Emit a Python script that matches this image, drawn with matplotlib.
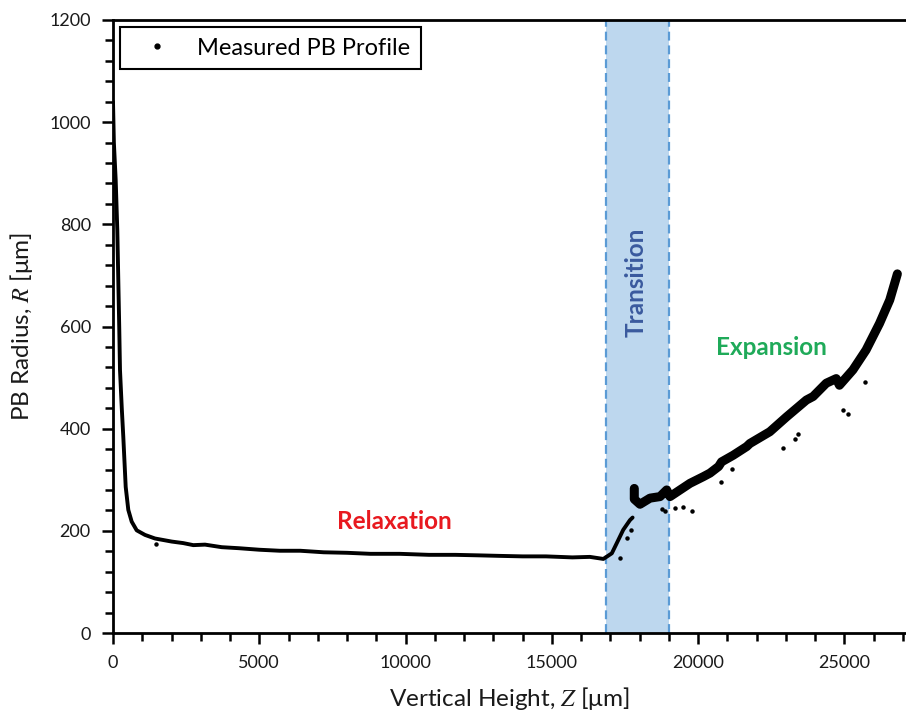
import matplotlib
matplotlib.use("Agg")
import matplotlib.pyplot as plt
from matplotlib.ticker import MultipleLocator
from matplotlib.lines import Line2D

plt.rcParams['font.family'] = ['Lato', 'DejaVu Sans']
plt.rcParams['mathtext.fontset'] = 'stix'

# profilo misurato: rilassamento + salita nella zona di transizione
z_relax = [0, 30, 92, 147, 181, 215, 239, 300, 352, 434, 523, 639, 810, 1094, 1436,
           2006, 2400, 2745, 3145, 3715, 4300, 5000, 5700, 6400, 7200, 8000, 8800,
           9800, 10800, 11700, 12500, 13200, 14000, 14800, 15700, 16300, 16760,
           17050, 17220, 17440, 17670, 17760]
r_relax = [1040, 960, 887, 789, 691, 593, 515, 440, 384, 286, 241, 218, 201, 192, 185,
           179, 176, 172, 173, 168, 166, 163, 161, 161, 158, 157, 155,
           155, 153, 153, 152, 151, 150, 150, 148, 149, 145,
           156, 176, 202, 221, 226]

# dopo il salto: transizione + espansione
z_exp = [17818, 17818, 18013, 18355, 18697, 18925, 19038, 19380, 19722, 20176, 20405,
         20700, 20800, 21200, 21660, 21770, 22450, 23020, 23700, 23930, 24380, 24720,
         24830, 25290, 25740, 26200, 26550, 26780, 26810]
r_exp = [283, 262, 252, 264, 267, 280, 267, 280, 293, 306, 313,
         326, 335, 348, 365, 371, 394, 423, 456, 463, 489, 498,
         485, 515, 554, 606, 652, 697, 703]

# punti isolati
z_out = [1460, 17330, 17558, 17695, 18755, 18868, 19209, 19493, 19778, 20770, 21170,
         22900, 23300, 23410, 24950, 25120, 25700]
r_out = [174, 146, 185, 202, 242, 239, 244, 246, 239, 296, 322,
         363, 380, 390, 437, 429, 492]

z_trans = [16850, 19000]

fig = plt.figure(figsize=(9.06, 7.18), dpi=100)
ax = fig.add_axes([113/906, 85/718, 1 - 113/906, 613/718])

ax.axvspan(z_trans[0], z_trans[1], color='#bdd7ee', zorder=0, lw=0)
for zt in z_trans:
    ax.axvline(zt, color='#5b9bd5', lw=1.6, dashes=(4, 2.2), zorder=1)

ax.plot(z_relax, r_relax, color='black', lw=2.8, solid_capstyle='round',
        solid_joinstyle='round', zorder=3)
ax.plot(z_exp, r_exp, color='black', lw=6.5, solid_capstyle='round',
        solid_joinstyle='round', zorder=3)
ax.plot(z_out, r_out, 'o', color='black', ms=2.2, zorder=3)

ax.set_xlim(0, 27105)
ax.set_ylim(0, 1200)

ax.xaxis.set_major_locator(MultipleLocator(5000))
ax.xaxis.set_minor_locator(MultipleLocator(1000))
ax.yaxis.set_major_locator(MultipleLocator(200))
ax.yaxis.set_minor_locator(MultipleLocator(40))

ax.spines['right'].set_visible(False)
for s in ['left', 'bottom', 'top']:
    ax.spines[s].set_linewidth(2)
ax.tick_params(which='major', direction='out', length=8, width=1.8,
               labelsize=13, pad=8, colors='black', labelcolor='#1a1a1a')
ax.tick_params(which='minor', direction='out', length=6, width=1.8)
ax.tick_params(axis='x', top=False, which='both')

ax.set_xlabel('Vertical Height, $Z$ [μm]', fontsize=17.5, color='#1a1a1a', labelpad=10)
ax.set_ylabel('PB Radius, $R$ [μm]', fontsize=17.5, color='#1a1a1a', labelpad=10)

ax.text(9605, 219, 'Relaxation', color='#e8191f', fontsize=17.5, fontweight='bold',
        ha='center', va='center')
ax.text(17876, 687, 'Transition', color='#3a5a9e', fontsize=17.5, fontweight='bold',
        ha='center', va='center', rotation=90)
ax.text(22490, 558, 'Expansion', color='#1faa59', fontsize=17.5, fontweight='bold',
        ha='center', va='center')

handle = Line2D([], [], ls='none', marker='o', color='black', ms=3.5)
leg = ax.legend([handle], ['Measured PB Profile'], loc='upper left', fontsize=17,
                fancybox=False, framealpha=1, edgecolor='black',
                borderaxespad=0.3, handletextpad=0.6, borderpad=0.45,
                handlelength=2.2)
leg.get_frame().set_linewidth(1.5)

fig.savefig('out.png', dpi=100)
